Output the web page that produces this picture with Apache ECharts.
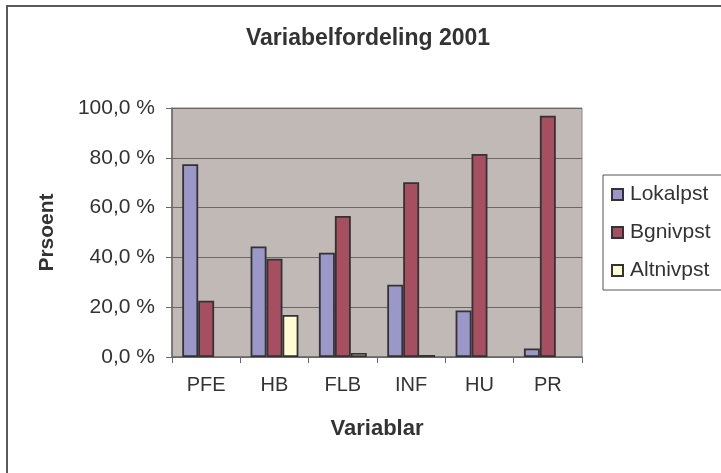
<!DOCTYPE html>
<html>
<head>
<meta charset="utf-8">
<script src="https://cdn.jsdelivr.net/npm/echarts@6/dist/echarts.min.js"></script>
<style>
  html, body { margin: 0; padding: 0; background: #fff; }
  #chart { width: 721px; height: 473px; }
</style>
</head>
<body>
<div id="chart"></div>
<script>
var categories = ['PFE', 'HB', 'FLB', 'INF', 'HU', 'PR'];
var lokalpst = [77.4, 44.4, 41.9, 29.0, 18.7, 3.4];
var bgnivpst = [22.6, 39.5, 56.6, 70.2, 81.5, 96.9];
// no bar drawn for PFE, HU, PR
var altnivpst = [null, 16.9, 1.6, 0.8, null, null];

var font = 'Liberation Sans';
var chart = echarts.init(document.getElementById('chart'));

function barSeries(name, data, color) {
    return {
        name: name,
        type: 'bar',
        data: data,
        barGap: 0,
        barCategoryGap: '30%',
        itemStyle: { color: color, borderColor: '#333', borderWidth: 1.8 }
    };
}

var option = {
    animation: false,
    textStyle: { fontFamily: font },
    graphic: [{
        type: 'rect',
        shape: { x: 7, y: 6, width: 800, height: 600 },
        style: { fill: 'none', stroke: '#5a5a5a', lineWidth: 2 },
        z: -10
    }],
    title: {
        text: 'Variabelfordeling 2001',
        left: 241,
        top: 22,
        textStyle: { fontSize: 23, fontWeight: 'bold', color: '#333', fontFamily: font }
    },
    legend: {
        orient: 'vertical',
        left: 603,
        top: 175,
        padding: [9, 40, 9, 8],
        itemGap: 17,
        itemWidth: 11,
        itemHeight: 11,
        icon: 'rect',
        borderColor: '#555',
        borderWidth: 1,
        backgroundColor: '#fff',
        textStyle: { fontSize: 21, color: '#333', fontFamily: font, padding: [0, 0, 0, 2] },
        data: ['Lokalpst', 'Bgnivpst', 'Altnivpst']
    },
    grid: { left: 172, top: 108, right: 139, bottom: 116, show: true, backgroundColor: '#c0b9b6', borderColor: '#8f8888', borderWidth: 1 },
    xAxis: {
        type: 'category',
        data: categories,
        name: 'Variablar',
        nameLocation: 'middle',
        nameGap: 61,
        nameTextStyle: { fontSize: 22, fontWeight: 'bold', color: '#333', fontFamily: font },
        axisLine: { lineStyle: { color: '#6b6767', width: 1.5 } },
        axisTick: { show: true, length: 6, lineStyle: { color: '#6b6767' } },
        axisLabel: { fontSize: 20, color: '#333', margin: 18, fontFamily: font }
    },
    yAxis: {
        type: 'value',
        min: 0,
        max: 100,
        interval: 20,
        name: 'Prsoent',
        nameLocation: 'middle',
        nameGap: 114,
        nameTextStyle: { fontSize: 21, fontWeight: 'bold', color: '#333', fontFamily: font },
        axisLine: { show: true, lineStyle: { color: '#6b6767', width: 1.5 } },
        axisTick: { show: true, length: 6, lineStyle: { color: '#6b6767' } },
        axisLabel: {
            fontSize: 21, color: '#333', margin: 17, fontFamily: font,
            formatter: function (v) { return v.toFixed(1).replace('.', ',') + ' %'; }
        },
        splitLine: { lineStyle: { color: '#6b6767', width: 1.2 } }
    },
    series: [
        barSeries('Lokalpst', lokalpst, '#9c97c9'),
        barSeries('Bgnivpst', bgnivpst, '#a64f60'),
        barSeries('Altnivpst', altnivpst, '#fffbd3')
    ]
};

chart.setOption(option);
</script>
</body>
</html>
